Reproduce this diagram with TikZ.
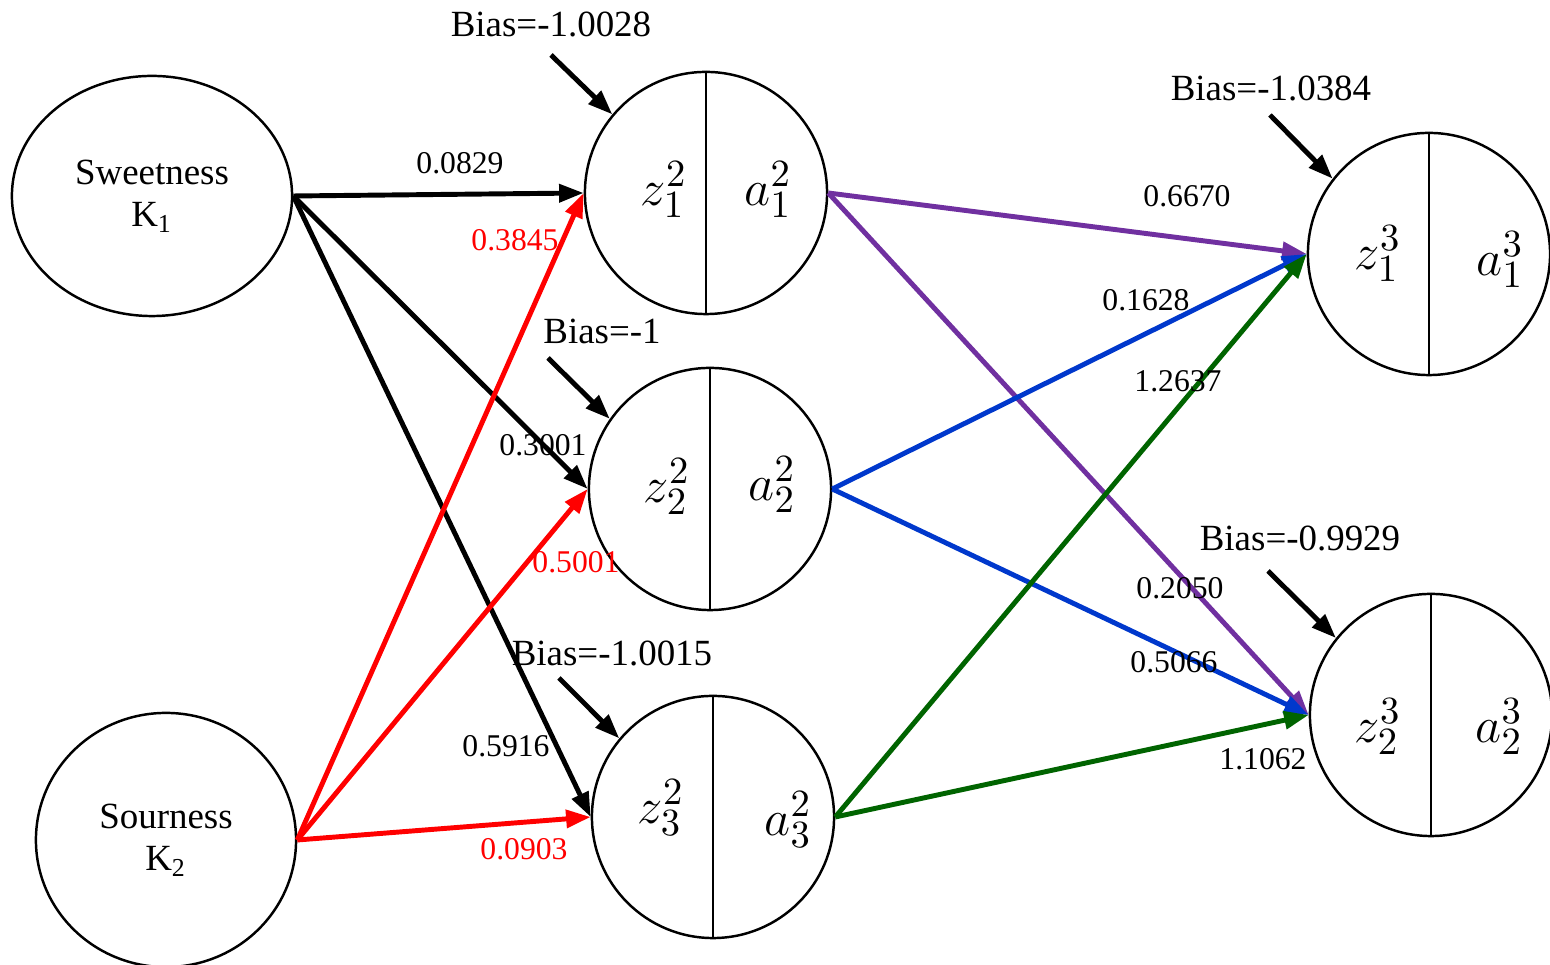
\documentclass[tikz,border=0pt]{standalone}
\usepackage{fontspec}
\setmainfont{Liberation Serif}
\usetikzlibrary{arrows.meta,shapes.geometric}
\definecolor{wpurple}{RGB}{112,48,160}
\definecolor{wblue}{RGB}{0,56,204}
\definecolor{wgreen}{RGB}{0,100,0}
\begin{document}
\begin{tikzpicture}[x=0.01cm,y=-0.01cm]

    \tikzset{
      feature/.style={
        ellipse,
        draw,
        line width=0.7pt,
        fill=white,
        align=center,
        inner sep=0pt,
        font=\fontsize{10.5}{12}\selectfont,
      },
      neuron/.style={
        circle,
        draw,
        line width=0.7pt,
        fill=white,
        inner sep=0pt,
        minimum size=2.42cm,
      },
      cell/.style={font=\fontsize{15}{17}\selectfont},
      wire/.style={line width=1.4pt,-{Triangle[length=7pt,width=5pt]}},
      weight/.style={font=\fontsize{9}{10}\selectfont},
      biastext/.style={font=\fontsize{10.5}{12}\selectfont},
    }
    \useasboundingbox (0,0) rectangle (1550,965);

	% input features
	\node[feature,minimum width=2.8cm,minimum height=2.4cm] (k1) at (152,196) {Sweetness\\K\textsubscript{1}};
	\node[feature,minimum width=2.6cm,minimum height=2.54cm] (k2) at (166,840) {Sourness\\K\textsubscript{2}};

	% hidden layer
	\node[neuron] (h1) at (706,193) {};
	\node[neuron] (h2) at (710,489) {};
	\node[neuron] (h3) at (713,817) {};
	% output layer
	\node[neuron] (o1) at (1429,254) {};
	\node[neuron] (o2) at (1431,715) {};

	\draw[line width=0.7pt] (h1.north)--(h1.south);
	\draw[line width=0.7pt] (h2.north)--(h2.south);
	\draw[line width=0.7pt] (h3.north)--(h3.south);
	\draw[line width=0.7pt] (o1.north)--(o1.south);
	\draw[line width=0.7pt] (o2.north)--(o2.south);

	\node[cell] (z12) at (664,190) {$z_1^2$};
	\node[cell] (a12) at (768,190) {$a_1^2$};
	\node[cell] (z22) at (667,487) {$z_2^2$};
	\node[cell] (a22) at (772,485) {$a_2^2$};
	\node[cell] (z32) at (661,808) {$z_3^2$};
	\node[cell] (a32) at (788,820) {$a_3^2$};
	\node[cell] (z13) at (1378,254) {$z_1^3$};
	\node[cell] (a13) at (1500,260) {$a_1^3$};
	\node[cell] (z23) at (1378,727) {$z_2^3$};
	\node[cell] (a23) at (1499,727) {$a_2^3$};

	% weights
	\draw[wire,black] (k1.east)--(h1.west);
	\draw[wire,black] (k1.east)--(h2.west);
	\draw[wire,black] (k1.east)--(h3.west);
	\draw[wire,red] (k2.east)--(h1.west);
	\draw[wire,red] (k2.east)--(h2.west);
	\draw[wire,red] (k2.east)--(h3.west);
	\draw[wire,wpurple] (h1.east)--(o1.west);
	\draw[wire,wpurple] (h1.east)--(o2.west);
	\draw[wire,wblue] (h2.east)--(o1.west);
	\draw[wire,wblue] (h2.east)--(o2.west);
	\draw[wire,wgreen] (h3.east)--(o1.west);
	\draw[wire,wgreen] (h3.east)--(o2.west);

	\node[weight] (w11) at (460,163) {0.0829};
	\node[weight,red] (w21) at (515,240) {0.3845};
	\node[weight] (w12) at (543,445) {0.3001};
	\node[weight,red] (w22) at (576,562) {0.5001};
	\node[weight] (w13) at (506,746) {0.5916};
	\node[weight,red] (w23) at (524,849) {0.0903};
	\node[weight] (v11) at (1187,196) {0.6670};
	\node[weight] (v21) at (1146,300) {0.1628};
	\node[weight] (v31) at (1178,381) {1.2637};
	\node[weight] (v12) at (1180,588) {0.2050};
	\node[weight] (v22) at (1174,662) {0.5066};
	\node[weight] (v32) at (1263,759) {1.1062};

	% biases
	\node[biastext] (bh1) at (551,24) {Bias=-1.0028};
	\node[biastext] (bh2) at (602,331) {Bias=-1};
	\node[biastext] (bh3) at (612,653) {Bias=-1.0015};
	\node[biastext] (bo1) at (1271,89) {Bias=-1.0384};
	\node[biastext] (bo2) at (1300,538) {Bias=-0.9929};
	\coordinate (sh1) at (551,55);
	\coordinate (sh2) at (548,358);
	\coordinate (sh3) at (559,678);
	\coordinate (so1) at (1270,115);
	\coordinate (so2) at (1268,571);
	\draw[wire] (sh1)--(h1.140);
	\draw[wire] (sh2)--(h2.145);
	\draw[wire] (sh3)--(h3.140);
	\draw[wire] (so1)--(o1.142);
	\draw[wire] (so2)--(o2.141);

\end{tikzpicture}
\end{document}
